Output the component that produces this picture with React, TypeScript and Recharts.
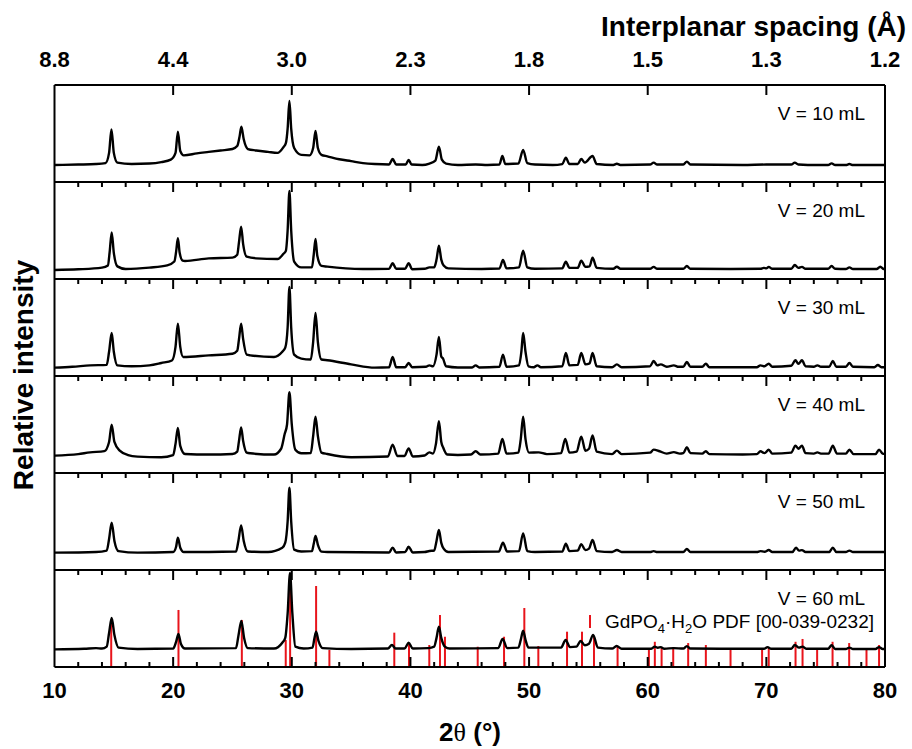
import React from 'react';
import { LineChart, Line, XAxis, YAxis, ReferenceLine } from 'recharts';

// ---------------- data ----------------
const volumeLabels = ['V = 10 mL', 'V = 20 mL', 'V = 30 mL', 'V = 40 mL', 'V = 50 mL', 'V = 60 mL'];
const majorTicks = [10, 20, 30, 40, 50, 60, 70, 80];
const allTicks = [10, 12, 14, 16, 18, 20, 22, 24, 26, 28, 30, 32, 34, 36, 38, 40, 42, 44, 46, 48, 50, 52, 54, 56, 58, 60, 62, 64, 66, 68, 70, 72, 74, 76, 78, 80];
const dSpacingLabels = ['8.8', '4.4', '3.0', '2.3', '1.8', '1.5', '1.3', '1.2'];

// [2θ, relative intensity (0-100 of panel)]
const pattern10: [number, number][] = [
  [10, 17.5], [12, 18], [13.5, 18.5], [14.3, 19.5], [14.6, 30], [14.8, 54.3], [15.0, 30], [15.3, 20], [16.5, 18.5], [18, 19], [19, 20.5], [19.8, 23], [20.2, 30], [20.4, 51.9], [20.6, 32], [20.9, 27.5], [22, 29.5], [23, 31], [24, 32.5], [25, 34], [25.4, 37], [25.6, 47], [25.75, 57], [25.95, 44], [26.3, 34], [27, 32.5], [28, 31], [28.8, 30], [29.3, 36], [29.5, 40], [29.65, 55], [29.8, 83.5], [29.95, 55], [30.2, 35], [30.8, 28], [31.5, 27.5], [31.8, 35], [32.0, 52.6], [32.2, 35], [32.5, 28], [33, 26.5], [34, 23.5], [35, 21.5], [36, 19.5], [37, 18.5], [38.2, 18], [38.5, 23.7], [38.8, 18], [39.6, 18], [39.85, 22.7], [40.1, 18], [41, 17.5], [41.6, 19], [42.1, 22], [42.4, 36.4], [42.65, 23], [43, 19], [44, 17.5], [45.5, 18], [46.5, 17.5], [47.5, 18], [47.75, 26.8], [48, 18.5], [49.1, 19], [49.5, 33], [49.85, 19.5], [50.5, 18], [52, 17.5], [52.8, 18.5], [53.1, 25], [53.4, 18.5], [54.1, 18.5], [54.4, 23.7], [54.7, 20], [55.35, 26.8], [55.7, 18.5], [57.1, 17.5], [57.4, 18.8], [57.7, 17.5], [60.2, 18], [60.5, 20], [60.8, 18], [63.0, 18], [63.3, 21], [63.6, 18], [68, 17.5], [70, 18], [72.1, 18], [72.4, 20], [72.7, 18], [73.5, 17.5], [75.2, 17.5], [75.5, 19.2], [75.8, 17.5], [76.7, 17.5], [77, 18.5], [77.3, 17.5], [80, 17.5],
];
const pattern20: [number, number][] = [
  [10, 9.3], [12, 10], [14, 11.7], [14.5, 14], [14.65, 28], [14.82, 48.1], [15.0, 27], [15.3, 13], [16, 10.3], [18, 11.7], [19.5, 14], [20.1, 18], [20.25, 28], [20.4, 42], [20.55, 27], [20.8, 19], [21, 18.6], [23, 21.3], [25, 22], [25.4, 25], [25.55, 38], [25.73, 53.9], [25.9, 36], [26.2, 23], [27, 21.3], [28.8, 20.6], [29.3, 26], [29.5, 29], [29.65, 50], [29.8, 90.7], [29.95, 50], [30.2, 18], [30.8, 12], [31.7, 12], [31.85, 25], [32.0, 41.2], [32.15, 24], [32.5, 13.5], [33, 12.7], [36, 10.3], [38.2, 10.5], [38.5, 16.2], [38.8, 10.5], [39.55, 10.5], [39.85, 16.2], [40.15, 10], [41.2, 10.5], [41.6, 12], [42, 12], [42.2, 20], [42.4, 34.3], [42.6, 20], [42.8, 14], [43.2, 11], [46, 10.3], [47.5, 10.8], [47.8, 19.6], [48.1, 11], [49.15, 12], [49.5, 29.2], [49.85, 12], [50.5, 10.5], [52.8, 11], [53.1, 17.8], [53.4, 11.5], [54.1, 11.5], [54.4, 18.9], [54.75, 12.5], [55.1, 13], [55.35, 22], [55.7, 11.5], [57.1, 10.5], [57.4, 12.7], [57.7, 10.5], [60.2, 10.5], [60.5, 12.5], [60.8, 10.5], [63.0, 10.5], [63.3, 13.4], [63.6, 10.5], [67, 10.3], [69.5, 10.5], [69.8, 11.5], [70.0, 11], [70.2, 12.5], [70.5, 10.5], [72.1, 10.5], [72.4, 14.4], [72.7, 11.5], [73, 12.5], [73.3, 10.5], [75.2, 10.5], [75.5, 13.4], [75.8, 10.5], [76.7, 10.3], [77, 12], [77.3, 10.3], [79.3, 10.3], [79.6, 12.7], [79.9, 10.3], [80, 10.3],
];
const pattern30: [number, number][] = [
  [10, 8.6], [11.5, 9.5], [13, 11], [14.4, 11.5], [14.6, 25], [14.82, 44.3], [15.0, 25], [15.3, 11], [16.5, 10], [18, 11], [19, 13.4], [19.9, 16], [20.2, 30], [20.4, 54], [20.6, 30], [20.85, 19.6], [23, 21.3], [25, 23], [25.4, 26], [25.55, 38], [25.73, 54], [25.9, 38], [26.2, 22], [26.5, 21.3], [28.5, 19.6], [29.2, 25], [29.45, 29.2], [29.65, 50], [29.8, 91.8], [29.95, 50], [30.2, 22], [30.8, 17.9], [31.6, 17], [31.8, 35], [32.0, 65], [32.2, 35], [32.5, 17], [33, 16.2], [35, 12], [37, 8.6], [38.2, 9], [38.5, 19.6], [38.8, 9], [39.55, 9], [39.85, 13.4], [40.15, 9], [41.3, 9.5], [41.6, 11], [41.9, 10], [42.2, 22], [42.4, 40.2], [42.6, 20], [42.75, 17.9], [43.0, 10], [44, 8.8], [45.2, 8.8], [45.5, 11], [45.8, 8.8], [47.5, 9.5], [47.8, 22], [48.1, 9.5], [49.15, 11], [49.35, 25], [49.5, 44.3], [49.7, 25], [49.95, 10], [50.4, 9], [50.7, 11], [51.0, 9], [52.8, 10], [53.1, 23.7], [53.4, 11], [54.1, 11.5], [54.4, 23.7], [54.75, 12], [55.1, 13], [55.35, 23.7], [55.7, 10], [57, 9], [57.4, 12], [57.8, 9], [60.2, 10], [60.5, 15.5], [60.8, 11], [61.1, 12], [61.6, 9.5], [62.2, 11], [62.6, 9.5], [63.0, 9.5], [63.3, 14.4], [63.6, 9.5], [64.6, 9.5], [64.9, 12.7], [65.2, 9], [68, 9], [69.2, 9], [69.5, 11], [69.85, 10], [70.2, 12.7], [70.5, 9.5], [72.1, 10.5], [72.45, 16.2], [72.7, 12.5], [73.0, 16.2], [73.3, 10], [74.0, 9.5], [74.3, 11], [74.6, 9.5], [75.3, 9.5], [75.6, 15.5], [75.9, 9.5], [76.7, 9.5], [77.0, 13.4], [77.3, 9.5], [79.1, 9], [79.4, 11.3], [79.7, 9], [80, 9],
];
const pattern40: [number, number][] = [
  [10, 17.9], [12, 19.5], [13, 21.3], [14.2, 22.5], [14.6, 32], [14.82, 49.9], [15.05, 32], [15.5, 23], [16.2, 18.5], [17, 16.9], [19, 16.2], [20.0, 18.5], [20.2, 30], [20.4, 46.4], [20.6, 28], [21, 19.6], [23, 19], [25, 19.6], [25.4, 22], [25.55, 33], [25.73, 47], [25.9, 33], [26.2, 21], [26.5, 20.3], [28.5, 19], [29.1, 25], [29.4, 40.2], [29.6, 50], [29.8, 83.2], [30.0, 50], [30.3, 24], [30.8, 20.3], [31.6, 20.5], [31.8, 38], [32.0, 58.1], [32.2, 38], [32.5, 21], [33, 19.6], [35, 16.2], [38.1, 17], [38.5, 29.3], [38.9, 17.5], [39.5, 17.5], [39.85, 25.4], [40.2, 17], [41.2, 18], [41.6, 21.3], [41.9, 20], [42.15, 30], [42.4, 53.3], [42.6, 32], [42.75, 26.5], [43.1, 19], [44, 18.5], [45.1, 19], [45.5, 22.4], [45.9, 19], [47.4, 20], [47.75, 35], [48.1, 20], [49.1, 21], [49.3, 35], [49.5, 58.1], [49.7, 35], [50.0, 21], [50.8, 21.3], [51.5, 19.5], [52.7, 20.5], [53.05, 35], [53.4, 21], [54.0, 22], [54.4, 37.5], [54.75, 23], [55.05, 25], [55.35, 38.6], [55.7, 22], [57.0, 19.5], [57.4, 23.1], [57.8, 19.5], [60.2, 21], [60.5, 24.1], [61, 22.4], [61.6, 20], [62.2, 21.5], [62.7, 20], [63.0, 20.5], [63.3, 26.5], [63.6, 20.5], [64.6, 20], [64.9, 22.4], [65.2, 19.5], [68, 19], [69.2, 19.5], [69.5, 22.4], [69.85, 20.5], [70.2, 24], [70.5, 20], [72.1, 21], [72.45, 28.2], [72.7, 25], [73.0, 28.2], [73.3, 20.5], [74.0, 20], [74.3, 21.3], [74.6, 20], [75.25, 20], [75.6, 28.2], [75.95, 20], [76.7, 20], [77.0, 24], [77.35, 19.5], [79.2, 19.5], [79.5, 24], [79.8, 20], [80, 19.6],
];
const pattern50: [number, number][] = [
  [10, 17.9], [13.5, 18.6], [14.4, 20], [14.6, 32], [14.82, 48.8], [15.05, 30], [15.4, 19.5], [17, 17.9], [20, 18.5], [20.25, 24], [20.4, 33.3], [20.6, 23], [20.9, 18.5], [23, 18.5], [25.3, 19], [25.5, 30], [25.73, 46], [25.95, 30], [26.3, 19], [28, 18.6], [29.2, 23], [29.45, 28.2], [29.65, 50], [29.8, 84.9], [29.95, 50], [30.2, 21], [30.8, 19], [31.7, 19.5], [31.85, 27], [32.0, 35], [32.2, 26], [32.5, 19], [33, 18.6], [38.2, 18], [38.5, 23], [38.8, 18], [39.55, 18.5], [39.85, 24], [40.2, 18], [41.2, 18.5], [41.6, 19.6], [42.0, 20], [42.2, 30], [42.4, 41.2], [42.6, 28], [42.8, 22], [43.2, 18.5], [47.45, 19], [47.8, 28.2], [48.15, 19], [49.15, 19.5], [49.5, 37.8], [49.85, 19.5], [50.5, 18.6], [52.8, 19], [53.1, 27.1], [53.4, 19.5], [54.1, 20], [54.4, 26.5], [54.75, 20.5], [55.05, 22], [55.35, 31], [55.7, 19.5], [57, 18.6], [57.4, 20.6], [57.8, 18.6], [60.2, 18.6], [60.5, 19.5], [60.8, 18.6], [63.0, 18.6], [63.3, 21.6], [63.6, 18.6], [67, 18.6], [69.2, 18.6], [69.5, 19.5], [69.85, 18.8], [70.2, 20.6], [70.5, 18.6], [72.2, 18.6], [72.5, 23], [72.75, 20], [73, 20.5], [73.3, 18.6], [75.3, 18.6], [75.6, 23], [75.9, 18.6], [76.7, 18.6], [77, 20], [77.3, 18.6], [80, 18.6],
];
const pattern60: [number, number][] = [
  [10, 18.2], [12.5, 18.8], [13.5, 19.5], [14.0, 19], [14.4, 21], [14.6, 35], [14.82, 50.5], [15.05, 33], [15.4, 20], [17, 18.5], [20.0, 19], [20.25, 26], [20.45, 34], [20.65, 24], [21, 19], [25.3, 19.5], [25.5, 32], [25.75, 47.4], [25.98, 30], [26.3, 19.5], [28.5, 19], [29.2, 25], [29.45, 30], [29.65, 55], [29.85, 97], [30.05, 55], [30.3, 21], [31, 19], [31.75, 20], [31.9, 29], [32.05, 36.4], [32.25, 27], [32.6, 19.5], [35, 18.5], [38.1, 19], [38.44, 22.7], [38.75, 19], [39.5, 19], [39.85, 25], [40.2, 19], [41.5, 19.5], [42.0, 21], [42.2, 30], [42.4, 41.5], [42.6, 30], [42.9, 21], [43.3, 19], [47.4, 19.5], [47.77, 29], [48.15, 19.5], [49.1, 20], [49.3, 28], [49.5, 37.4], [49.7, 28], [49.95, 20], [52.7, 20], [53.08, 27.8], [53.45, 20.5], [54.0, 21], [54.35, 26.8], [54.7, 22.5], [55.05, 24], [55.4, 33], [55.8, 20], [57.0, 19], [57.38, 21.6], [57.8, 18.8], [60.3, 18.8], [60.6, 21], [60.85, 19.8], [61.1, 20.5], [61.4, 18.8], [62.2, 19.5], [63.0, 19], [63.3, 21.5], [63.6, 19], [69.8, 18.8], [70.1, 20.5], [70.4, 18.8], [72.1, 18.8], [72.4, 22.7], [72.75, 20], [73.05, 21], [73.35, 18.8], [75.2, 18.8], [75.5, 22.5], [75.8, 18.6], [76.7, 18.6], [77, 20], [77.3, 18.6], [79.2, 18.6], [79.5, 20.5], [79.8, 18.6], [80, 18.6],
];

// GdPO4·H2O PDF [00-039-0232] reference sticks
const refPositions = [14.78, 20.45, 25.79, 29.49, 29.86, 32.05, 33.17, 38.64, 39.88, 41.59, 42.49, 42.91, 45.67, 47.89, 49.6, 50.78, 53.2, 54.46, 55.47, 57.46, 60.1, 60.6, 61.17, 62.15, 63.41, 64.9, 66.98, 69.64, 70.2, 72.46, 73.05, 74.28, 75.58, 76.98, 78.44, 79.5];
const refIntensities = [45, 58.8, 48.5, 28, 80, 83.5, 17.5, 35.4, 24.7, 22.7, 53.6, 31.2, 20.9, 31.2, 60.8, 21.6, 36.4, 36.4, 32, 20.9, 19.6, 26, 20.6, 20.6, 24.7, 22.7, 17.5, 19.6, 20.6, 26, 28.9, 19.6, 26, 24.7, 17.5, 22.7];

const patterns = [pattern10, pattern20, pattern30, pattern40, pattern50, pattern60];

// ---------------- layout ----------------
const W = 912;
const H = 749;
const LEFT = 54.5;
const RIGHT = 885;
const TOP = 85;
const PANEL_H = 97;
const AX = 1; // minimal axis thickness so recharts draws the axis
const FONT = "'Liberation Sans', Arial, Helvetica, sans-serif";
const RED = '#e8141b';

const axisLineStyle = { stroke: '#000', strokeWidth: 2 };

function panelMargin(i: number) {
  const top = TOP + i * PANEL_H;
  const bottom = top + PANEL_H;
  return { top, left: LEFT, right: W - RIGHT, bottom: H - bottom };
}

function axisMargin(i: number) {
  const m = panelMargin(i);
  return { top: m.top - AX, left: m.left - AX, right: m.right - AX, bottom: m.bottom - AX };
}

function renderTopTick(props: any, first: boolean) {
  const { x, y, payload } = props;
  const v = payload.value as number;
  const major = v % 10 === 0;
  const edge = v === 10 || v === 80;
  const len = major ? 10 : 5;
  const idx = majorTicks.indexOf(v);
  return (
    <g>
      {!edge && <line x1={x} y1={y} x2={x} y2={y + len} stroke="#000" strokeWidth={2} />}
      {first && idx >= 0 && (
        <text x={x} y={y - 18} textAnchor="middle" fontFamily={FONT} fontWeight="bold" fontSize={22} fill="#000">
          {dSpacingLabels[idx]}
        </text>
      )}
    </g>
  );
}

function renderBottomTick(props: any) {
  const { x, y, payload } = props;
  const v = payload.value as number;
  const major = v % 10 === 0;
  const edge = v === 10 || v === 80;
  const len = major ? 10 : 5;
  return (
    <g>
      {!edge && <line x1={x} y1={y} x2={x} y2={y - len} stroke="#000" strokeWidth={2} />}
      {major && (
        <text x={x} y={y + 31} textAnchor="middle" fontFamily={FONT} fontWeight="bold" fontSize={22} fill="#000">
          {v}
        </text>
      )}
    </g>
  );
}

function Panel({ index }: { index: number }) {
  const margin = axisMargin(index);
  const first = index === 0;
  const last = index === 5;
  const data = patterns[index].map(([x, y]) => ({ x, y }));
  const top = panelMargin(index).top;
  return (
    <div style={{ position: 'absolute', left: 0, top: 0 }}>
      <LineChart width={W} height={H} margin={margin} data={data}>
        <XAxis
          xAxisId="t"
          orientation="top"
          type="number"
          dataKey="x"
          domain={[10, 80]}
          ticks={first ? majorTicks : allTicks}
          interval={0}
          height={AX}
          tickSize={0}
          tickMargin={0}
          tickLine={false}
          axisLine={axisLineStyle}
          tick={(p: any) => renderTopTick(p, first)}
          allowDataOverflow
        />
        <XAxis
          xAxisId="b"
          orientation="bottom"
          type="number"
          dataKey="x"
          domain={[10, 80]}
          ticks={allTicks}
          interval={0}
          height={AX}
          tickSize={0}
          tickMargin={0}
          tickLine={false}
          axisLine={axisLineStyle}
          tick={last ? (p: any) => renderBottomTick(p) : false}
          allowDataOverflow
        />
        <YAxis yAxisId="l" orientation="left" type="number" domain={[0, 100]} width={AX} tick={false} tickLine={false} axisLine={axisLineStyle} allowDataOverflow />
        <YAxis yAxisId="r" orientation="right" type="number" domain={[0, 100]} width={AX} tick={false} tickLine={false} axisLine={axisLineStyle} allowDataOverflow />
        <Line xAxisId="b" yAxisId="l" type="monotone" dataKey="y" stroke="#000" strokeWidth={2.4} strokeLinejoin="round" dot={false} isAnimationActive={false} />
        <text x={865} y={top + 35} textAnchor="end" fontFamily={FONT} fontSize={19} fill="#000">
          {volumeLabels[index]}
        </text>
        {first && (
          <text x={906} y={36} textAnchor="end" fontFamily={FONT} fontWeight="bold" fontSize={28} fill="#000">
            Interplanar spacing (Å)
          </text>
        )}
        {last && (
          <g>
            <line x1={590} y1={top + 45} x2={590} y2={top + 58} stroke={RED} strokeWidth={2} />
            <text x={605} y={top + 58} fontFamily={FONT} fontSize={19} fill="#000">
              GdPO<tspan fontSize={13} dy={5}>4</tspan><tspan dy={-5}>·H</tspan><tspan fontSize={13} dy={5}>2</tspan><tspan dy={-5}>O PDF [00-039-0232]</tspan>
            </text>
            <text x={470} y={741} textAnchor="middle" fontFamily={FONT} fontWeight="bold" fontSize={26} fill="#000">
              2<tspan fontFamily="'Liberation Serif', serif" fontWeight="normal">θ</tspan> (°)
            </text>
          </g>
        )}
        {first && (
          <text x={33} y={375} transform="rotate(-90, 33, 375)" textAnchor="middle" fontFamily={FONT} fontWeight="bold" fontSize={28} fill="#000">
            Relative intensity
          </text>
        )}
      </LineChart>
    </div>
  );
}

function RefSticks() {
  const margin = panelMargin(5);
  const data = pattern60.map(([x, y]) => ({ x, y }));
  return (
    <div style={{ position: 'absolute', left: 0, top: 0 }}>
      <LineChart width={W} height={H} margin={margin} data={data}>
        <XAxis xAxisId="b" type="number" dataKey="x" domain={[10, 80]} hide allowDataOverflow />
        <YAxis yAxisId="l" type="number" domain={[0, 100]} hide allowDataOverflow />
        {refPositions.map((p, i) => (
          <ReferenceLine
            key={i}
            xAxisId="b"
            yAxisId="l"
            segment={[{ x: p, y: 0 }, { x: p, y: refIntensities[i] }]}
            stroke={RED}
            strokeWidth={2}
            ifOverflow="visible"
          />
        ))}
      </LineChart>
    </div>
  );
}

export default function App() {
  return (
    <div style={{ position: 'absolute', left: 0, top: 0, width: W, height: H, background: '#fff' }}>
      <RefSticks />
      {[0, 1, 2, 3, 4, 5].map((i) => (
        <Panel key={i} index={i} />
      ))}
    </div>
  );
}
